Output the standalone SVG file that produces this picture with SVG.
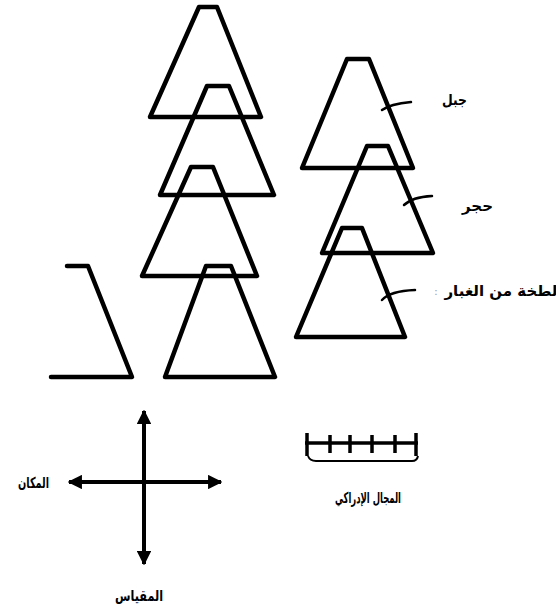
<svg xmlns="http://www.w3.org/2000/svg" width="556" height="607" viewBox="0 0 556 607">
<style>
.tr{fill:none;stroke:#000;stroke-width:4.5;stroke-linejoin:round;stroke-linecap:round}
.ld{fill:none;stroke:#000;stroke-width:2.5;stroke-linecap:round}
.ax{fill:none;stroke:#000;stroke-width:4}
.lb{font-family:"DejaVu Sans",sans-serif;font-weight:bold;font-size:15px;fill:#000}
</style>
<defs>
<marker id="ah" viewBox="0 0 10 10" refX="9" refY="5" markerWidth="3.6" markerHeight="3.6" orient="auto-start-reverse" markerUnits="strokeWidth">
<path d="M0,0 L10,5 L0,10 Z" fill="#000"/>
</marker>
</defs>
<g id="mountain-1"><polygon class="tr" points="199,7 217,7 261,117 150,117"/></g>
<g id="mountain-2"><polygon class="tr" points="207,86 229,86 274,195 160,195"/></g>
<g id="mountain-3"><polygon class="tr" points="191,167 213,167 257,276 142,276"/></g>
<g id="mountain-4"><polygon class="tr" points="206,266 231,266 275,377 165,377"/></g>
<g id="mountain-partial"><polyline class="tr" points="67,266 88,266 132,377 51,377"/></g>
<g id="mountain-5"><polygon class="tr" points="347,59 369,59 413,168 302,168"/></g>
<g id="mountain-6"><polygon class="tr" points="367,146 388,146 433,253 322,253"/></g>
<g id="mountain-7"><polygon class="tr" points="342,228 362,228 405,337 296,337"/></g>
<g id="connectors">
<path class="ld" d="M382,110 Q390,104 411,102"/>
<path class="ld" d="M404,205 Q412,197 432,196"/>
<path class="ld" d="M382,300 Q390,291 415,290"/>
<line class="ax" x1="144" y1="411" x2="144" y2="564" marker-start="url(#ah)" marker-end="url(#ah)"/>
<line class="ax" x1="69" y1="482" x2="221" y2="482" marker-start="url(#ah)" marker-end="url(#ah)"/>
</g>
<g id="ruler">
<line x1="305" y1="443" x2="418" y2="443" stroke="#000" stroke-width="3.5"/>
<g stroke="#000" stroke-width="3.5">
<line x1="307" y1="433" x2="307" y2="456"/>
<line x1="330" y1="435" x2="330" y2="453"/>
<line x1="350" y1="435" x2="350" y2="453"/>
<line x1="372" y1="435" x2="372" y2="453"/>
<line x1="395" y1="435" x2="395" y2="453"/>
<line x1="416" y1="433" x2="416" y2="456"/>
</g>
<path d="M308,456 Q310,461 316,461 L412,461 Q417,461 418,456" fill="none" stroke="#000" stroke-width="2"/>
</g>
<g id="labels">
<text class="lb" x="467" y="105" text-anchor="end" textLength="25" lengthAdjust="spacingAndGlyphs">جبل</text>
<text class="lb" x="493" y="211" text-anchor="end" textLength="31" lengthAdjust="spacingAndGlyphs">حجر</text>
<text class="lb" x="501" y="296" text-anchor="middle" font-size="13.5">لطخة من الغبار</text>
<text x="436" y="295" font-family="DejaVu Sans,sans-serif" font-size="10" fill="#999" text-anchor="middle">:</text>
<text class="lb" x="49" y="488" text-anchor="end" textLength="31" lengthAdjust="spacingAndGlyphs">المكان</text>
<text class="lb" x="163" y="601" text-anchor="end" textLength="48" lengthAdjust="spacingAndGlyphs">المقياس</text>
<text class="lb" x="401" y="503" text-anchor="end" textLength="66" lengthAdjust="spacingAndGlyphs">المجال الإدراكي</text>
</g>
</svg>
